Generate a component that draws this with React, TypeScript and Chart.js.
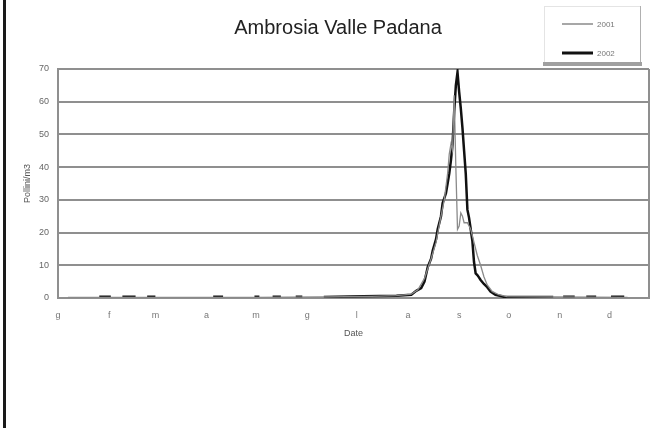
import { useEffect, useRef } from "react";
import { Chart, registerables } from "chart.js";

Chart.register(...registerables);

const chartTitle = "Ambrosia Valle Padana";
const xTitle = "Date";
const yTitle = "Pollini/m3";
const seriesNames = ["2001", "2002"];
const monthStarts = [0, 31, 59, 90, 120, 151, 181, 212, 243, 273, 304, 334];
const monthLabels = ["g", "f", "m", "a", "m", "g", "l", "a", "s", "o", "n", "d"];
const yTicks = [0, 10, 20, 30, 40, 50, 60, 70];

const days2001 = [6, 40, 80, 120, 160, 190, 205, 214, 218, 222, 226, 229, 232, 234, 236, 237, 238, 239, 240, 241, 242, 243, 244, 245, 246, 248, 250, 252, 254, 256, 258, 260, 263, 267, 272, 300, 345];
const pollen2001 = [0.2, 0.2, 0.2, 0.2, 0.3, 0.5, 0.7, 1.2, 2.5, 6, 12, 17, 25, 30, 38, 44, 47, 45, 62, 40, 21, 22, 26, 25, 23, 23, 21, 17, 13, 10, 6.5, 4, 2, 1, 0.4, 0.3, 0.2];

const days2002 = [
  25, 32, 33, 39, 47, 48, 54, 59, 60, 94, 100, 101, 119, 122, 123, 130, 135, 136, 144, 148, 149,
  161, 185, 205, 214, 217, 220, 222, 224, 226, 227, 229, 230, 232, 233, 235, 236, 237, 238, 239, 240, 241, 242,
  243, 244, 245, 246, 247, 248, 249, 250, 251, 252, 253, 254, 255, 256, 258, 260, 262, 265, 270, 300, 302,
  306, 313, 314, 320, 326, 327, 335, 343,
];
const pollen2002 = [
  0.4, 0.4, null, 0.4, 0.4, null, 0.4, 0.4, null, 0.4, 0.4, null, 0.4, 0.4, null, 0.4, 0.4, null, 0.4, 0.4, null,
  0.3, 0.5, 0.7, 1.0, 2.2, 3, 5, 9.5, 12, 14.5, 18, 21, 25, 29, 32, 35, 38, 42, 47, 57, 65, 69,
  63, 58, 52, 45, 38, 27, 24.5, 21, 17.5, 11, 7.5, 7, 6.3, 5.5, 4.3, 3.3, 2, 1, 0.4, 0.3, null,
  0.4, 0.4, null, 0.4, 0.4, null, 0.4, 0.4,
];

const FONT = "'Liberation Sans', Arial, sans-serif";
const GRID = "#8f8f8f";

export default function App() {
  const ref = useRef<HTMLCanvasElement>(null);

  useEffect(() => {
    if (!ref.current) return;
    const decor = {
      id: "decor",
      beforeDraw(chart: any) {
        const ctx = chart.ctx;
        ctx.save();
        ctx.fillStyle = "#ffffff";
        ctx.fillRect(0, 0, chart.width, chart.height);
        ctx.restore();
      },
      afterDraw(chart: any) {
        const ctx = chart.ctx;
        const a = chart.chartArea;
        ctx.save();
        // right border of plot
        ctx.strokeStyle = GRID;
        ctx.lineWidth = 2;
        ctx.beginPath();
        ctx.moveTo(a.right, a.top);
        ctx.lineTo(a.right, a.bottom);
        ctx.stroke();
        // scan edge
        ctx.fillStyle = "#1a1a1a";
        ctx.fillRect(3, 0, 3, chart.height);
        // title
        ctx.fillStyle = "#222";
        ctx.font = `20px ${FONT}`;
        ctx.textAlign = "center";
        ctx.textBaseline = "middle";
        ctx.fillText(chartTitle, 338, 28);
        // legend box
        ctx.strokeStyle = "#e4e4e4";
        ctx.lineWidth = 1;
        ctx.strokeRect(544.5, 6.5, 96, 57);
        ctx.strokeStyle = "#b0b0b0";
        ctx.beginPath();
        ctx.moveTo(640.5, 6);
        ctx.lineTo(640.5, 63);
        ctx.stroke();
        ctx.fillStyle = "#a0a0a0";
        ctx.fillRect(543, 62, 99, 4);
        const ds = chart.data.datasets;
        const rows = [24, 53];
        ds.forEach((d: any, i: number) => {
          ctx.strokeStyle = d.borderColor;
          ctx.lineWidth = i === 0 ? 1.5 : 3;
          ctx.beginPath();
          ctx.moveTo(562, rows[i]);
          ctx.lineTo(593, rows[i]);
          ctx.stroke();
          ctx.fillStyle = "#777";
          ctx.font = `8px ${FONT}`;
          ctx.textAlign = "left";
          ctx.textBaseline = "middle";
          ctx.fillText(d.label, 597, rows[i] + 1);
        });
        ctx.restore();
      },
    };

    const chart = new Chart(ref.current, {
      type: "line",
      data: {
        datasets: [
          {
            label: seriesNames[0],
            data: days2001.map((d, i) => ({ x: d, y: pollen2001[i] })),
            borderColor: "#8a8a8a",
            borderWidth: 1.3,
            pointRadius: 0,
            tension: 0,
            spanGaps: false,
          },
          {
            label: seriesNames[1],
            data: days2002.map((d, i) => ({ x: d, y: pollen2002[i] })),
            borderColor: "#111111",
            borderWidth: 2.5,
            pointRadius: 0,
            tension: 0,
            spanGaps: false,
          },
        ],
      },
      options: {
        animation: false,
        responsive: false,
        devicePixelRatio: 1,
        layout: { padding: { top: 69, left: 0, right: 10, bottom: 88 } },
        plugins: {
          legend: { display: false },
          title: { display: false },
          tooltip: { enabled: false },
        },
        scales: {
          x: {
            type: "linear",
            min: 0,
            max: 358,
            afterFit(scale: any) {
              scale.height = 42;
            },
            afterBuildTicks(scale: any) {
              scale.ticks = monthStarts.map((v) => ({ value: v }));
            },
            ticks: {
              autoSkip: false,
              maxRotation: 0,
              padding: 12,
              color: "#777",
              font: { family: FONT, size: 9 },
              callback: (v: any) => {
                const idx = monthStarts.indexOf(Number(v));
                return idx >= 0 ? monthLabels[idx] : "";
              },
            },
            grid: { display: false, drawTicks: false },
            border: { display: true, color: GRID, width: 2 },
            title: {
              display: true,
              text: xTitle,
              color: "#555",
              font: { family: FONT, size: 9 },
              padding: { top: 0, bottom: 1 },
            },
          },
          y: {
            min: 0,
            max: 70,
            afterFit(scale: any) {
              scale.width = 58;
            },
            afterBuildTicks(scale: any) {
              scale.ticks = yTicks.map((v) => ({ value: v }));
            },
            ticks: {
              padding: 9,
              color: "#666",
              font: { family: FONT, size: 9 },
            },
            grid: { color: GRID, lineWidth: 2, drawTicks: false },
            border: { display: true, color: GRID, width: 2 },
            title: {
              display: true,
              text: yTitle,
              color: "#555",
              font: { family: FONT, size: 9 },
              padding: { top: 22, bottom: 0 },
            },
          },
        },
      },
      plugins: [decor],
    });
    return () => chart.destroy();
  }, []);

  return (
    <div style={{ position: "fixed", left: 0, top: 0, width: 659, height: 428, background: "#fff" }}>
      <canvas ref={ref} width={659} height={428} style={{ width: 659, height: 428, display: "block" }} />
    </div>
  );
}
